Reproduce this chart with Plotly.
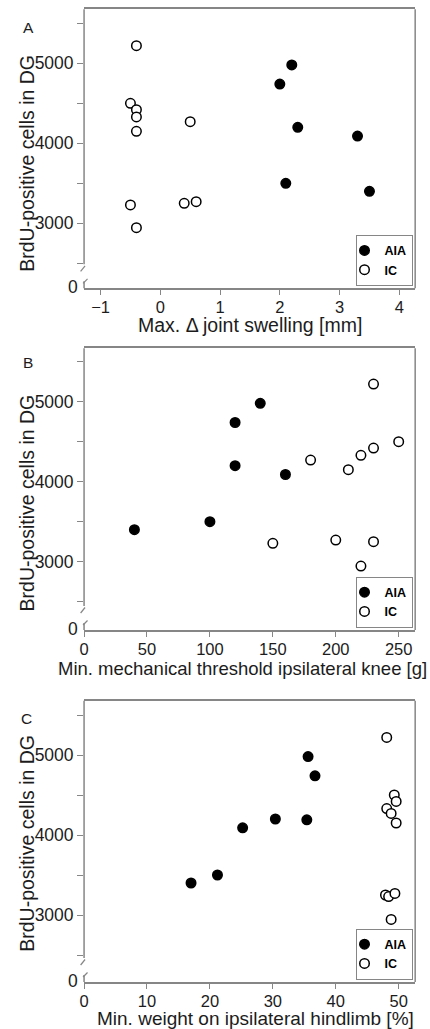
import plotly.graph_objects as go

# ---------------- data ----------------
series_names = ["AIA", "IC"]

# Panel A: Max. delta joint swelling [mm]
a_aia_x = [2.0, 2.2, 2.3, 3.3, 2.1, 3.5]
a_aia_y = [4740, 4980, 4200, 4090, 3500, 3400]
a_ic_x = [-0.4, -0.5, -0.4, -0.4, -0.4, 0.5, -0.5, 0.4, 0.6, -0.4]
a_ic_y = [5220, 4500, 4420, 4330, 4150, 4270, 3230, 3250, 3270, 2945]

# Panel B: Min. mechanical threshold ipsilateral knee [g]
b_aia_x = [40, 100, 120, 120, 140, 160]
b_aia_y = [3400, 3500, 4740, 4200, 4980, 4090]
b_ic_x = [150, 180, 200, 210, 220, 220, 230, 230, 230, 250]
b_ic_y = [3230, 4270, 3270, 4150, 4330, 2945, 5220, 4420, 3250, 4500]

# Panel C: Min. weight on ipsilateral hindlimb [%]
c_aia_x = [17.0, 21.2, 25.2, 30.4, 35.4, 35.6, 36.7]
c_aia_y = [3400, 3500, 4090, 4200, 4190, 4980, 4740]
c_ic_x = [48.1, 49.3, 49.6, 48.1, 48.8, 49.6, 47.9, 48.4, 49.4, 48.8]
c_ic_y = [5220, 4500, 4420, 4330, 4270, 4150, 3250, 3230, 3270, 2945]

panel_letters = ["A", "B", "C"]
x_titles = ["Max. \u0394 joint swelling [mm]",
            "Min. mechanical threshold ipsilateral knee [g]",
            "Min. weight on ipsilateral hindlimb [%]"]
y_title = "BrdU-positive cells in DG"
y_zero_label = "0"

# ---------------- styling / layout ----------------
W, H = 430, 1029
FONT = "Liberation Sans, Arial, sans-serif"
GRAY = "#868686"
TXT = "#1c1c1c"

# pixel geometry of each panel frame: (left, right, top, bottom)
frames = [(80, 415, 9.3, 288.3), (80, 415, 348.3, 630.0), (80, 415, 700.7, 982.0)]
x_ranges = [[-1.276, 4.265], [0, 263.1], [0, 52.62]]
x_dticks = [1, 50, 10]
y_ranges = [[2187.5, 5675], [2146, 5667.5], [2162.5, 5678.8]]
y_title_centers = [163, 502.7, 843]
x_title_pos = [(248.3, 325, 19.5), (240, 668.5, 18.5), (253, 1018.5, 19)]
letter_pos = [(24, 27.5), (23, 362.5), (21.5, 718)]


def px(x):
    return x / W


def py(y):
    return 1 - y / H


data = [
    ((a_aia_x, a_aia_y), (a_ic_x, a_ic_y)),
    ((b_aia_x, b_aia_y), (b_ic_x, b_ic_y)),
    ((c_aia_x, c_aia_y), (c_ic_x, c_ic_y)),
]

fig = go.Figure()
layout = dict(
    width=W, height=H,
    margin=dict(l=0, r=0, t=0, b=0),
    paper_bgcolor="white", plot_bgcolor="white",
    font=dict(family=FONT, color=TXT, size=17.5),
    showlegend=True,
)
shapes = []
annotations = []

for i, ((aia_x, aia_y), (ic_x, ic_y)) in enumerate(data):
    n = "" if i == 0 else str(i + 1)
    xa, ya = "x" + n, "y" + n
    leg = "legend" + n
    L, R, T, B = frames[i]

    fig.add_trace(go.Scatter(
        x=aia_x, y=aia_y, mode="markers", name=series_names[0],
        xaxis=xa, yaxis=ya, legend=leg,
        marker=dict(size=9.5, color="black", symbol="circle",
                    line=dict(color="black", width=1.5)),
        cliponaxis=False,
    ))
    fig.add_trace(go.Scatter(
        x=ic_x, y=ic_y, mode="markers", name=series_names[1],
        xaxis=xa, yaxis=ya, legend=leg,
        marker=dict(size=9.5, color="white", symbol="circle",
                    line=dict(color="black", width=1.5)),
        cliponaxis=False,
    ))

    layout["xaxis" + n] = dict(
        domain=[px(L), px(R)], anchor=ya, range=x_ranges[i],
        tickmode="linear", tick0=0, dtick=x_dticks[i],
        ticks="outside", ticklen=5, tickwidth=1.2, tickcolor=GRAY,
        ticklabelstandoff=-2,
        showline=True, mirror=True, linecolor=GRAY, linewidth=1.5,
        showgrid=False, zeroline=False,
        tickfont=dict(size=16.5, color=TXT, family=FONT),
    )
    layout["yaxis" + n] = dict(
        domain=[py(B), py(T)], anchor=xa, range=y_ranges[i],
        tickmode="linear", tick0=0, dtick=1000,
        ticks="outside", ticklen=6, tickwidth=1.2, tickcolor=GRAY,
        minor=dict(dtick=500, tick0=0, ticks="outside", ticklen=6,
                   tickwidth=1.2, tickcolor=GRAY, showgrid=False),
        showline=False, showgrid=False, zeroline=False,
        tickfont=dict(size=17.5, color=TXT, family=FONT),
    )
    layout[leg] = dict(
        x=px(412.3), y=py(B - 2.5), xanchor="right", yanchor="bottom",
        bgcolor="white", bordercolor=GRAY, borderwidth=1,
        font=dict(family=FONT, size=12.5, color="black", weight="bold"),
        itemwidth=30, tracegroupgap=0, indentation=-12,
    )

    line = dict(color=GRAY, width=1.5)
    # right frame line
    shapes.append(dict(type="line", xref="paper", yref="paper",
                       x0=px(R), x1=px(R), y0=py(B), y1=py(T), line=line))
    # left frame line, broken
    shapes.append(dict(type="line", xref="paper", yref="paper",
                       x0=px(L), x1=px(L), y0=py(T), y1=py(B - 24), line=line))
    shapes.append(dict(type="line", xref="paper", yref="paper",
                       x0=px(L), x1=px(L), y0=py(B - 7), y1=py(B), line=line))
    # break marks
    shapes.append(dict(type="line", xref="paper", yref="paper",
                       x0=px(L - 3.5), x1=px(L + 1), y0=py(B - 17), y1=py(B - 22.5),
                       line=dict(color=GRAY, width=1.2)))
    shapes.append(dict(type="line", xref="paper", yref="paper",
                       x0=px(L - 1), x1=px(L + 3.5), y0=py(B - 5), y1=py(B - 9.5),
                       line=dict(color=GRAY, width=1.2)))

    # "0" label below the axis break
    annotations.append(dict(
        text=y_zero_label, xref="paper", yref="paper",
        x=px(L - 4), y=py(B - 1), xanchor="right", yanchor="middle",
        showarrow=False, font=dict(size=17.5, color=TXT, family=FONT)))
    # y title
    annotations.append(dict(
        text=y_title, xref="paper", yref="paper", textangle=-90,
        x=px(22), y=py(y_title_centers[i]), xanchor="center", yanchor="middle",
        showarrow=False, font=dict(size=19.5, color=TXT, family=FONT)))
    # x title
    tx, ty, ts = x_title_pos[i]
    annotations.append(dict(
        text=x_titles[i], xref="paper", yref="paper",
        x=px(tx), y=py(ty), xanchor="center", yanchor="middle",
        showarrow=False, font=dict(size=ts, color=TXT, family=FONT)))
    # panel letter
    lx, ly = letter_pos[i]
    annotations.append(dict(
        text=panel_letters[i], xref="paper", yref="paper",
        x=px(lx), y=py(ly), xanchor="center", yanchor="middle",
        showarrow=False, font=dict(size=15.5, color=TXT, family=FONT)))

layout["shapes"] = shapes
layout["annotations"] = annotations
fig.update_layout(**layout)

fig.write_html(
    "out.html",
    config={"displayModeBar": False},
    post_script="document.body.style.margin='0px';document.body.style.overflow='hidden';",
)
